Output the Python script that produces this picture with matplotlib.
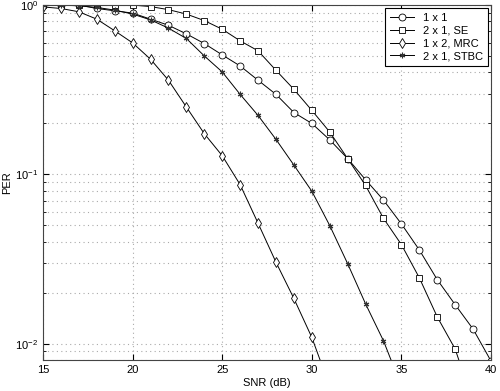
import matplotlib
matplotlib.use("Agg")
import matplotlib.pyplot as plt

plt.rcParams['font.family'] = ['Liberation Sans', 'DejaVu Sans']

# SNR points (dB)
snr = list(range(15, 41))

# PER curves
per_1x1 = [1.0, 1.0, 1.0, 0.955, 0.925, 0.897, 0.826, 0.76, 0.676, 0.593, 0.508,
           0.437, 0.36, 0.297, 0.232, 0.2, 0.16, 0.124, 0.093, 0.0705, 0.051,
           0.0358, 0.0239, 0.017, 0.0122, 0.0079]
per_2x1_se = [1.0, 1.0, 1.0, 1.0, 1.0, 1.0, 0.98, 0.94, 0.885, 0.81, 0.72,
              0.615, 0.537, 0.412, 0.318, 0.239, 0.178, 0.124, 0.086, 0.055,
              0.0385, 0.0245, 0.0144, 0.0093, 0.0045]
per_1x2_mrc = [0.975, 0.955, 0.913, 0.826, 0.705, 0.598, 0.479, 0.36, 0.25,
               0.174, 0.129, 0.087, 0.0515, 0.0303, 0.0185, 0.0109, 0.0056]
per_2x1_stbc = [1.0, 1.0, 0.99, 0.969, 0.934, 0.885, 0.818, 0.731, 0.635, 0.501,
                0.403, 0.297, 0.223, 0.161, 0.1135, 0.0796, 0.0499, 0.0297,
                0.0172, 0.0104, 0.0056]

labels = ['1 x 1', '2 x 1, SE', '1 x 2, MRC', '2 x 1, STBC']

fig = plt.figure(figsize=(5, 3.91), dpi=100)
ax = fig.add_axes([0.086, 0.079, 0.896, 0.908])

style = dict(color='black', lw=0.7, mfc='white', mec='black', mew=0.6)
ax.semilogy(snr[:len(per_1x1)], per_1x1, marker='o', ms=5, label=labels[0], **style)
ax.semilogy(snr[:len(per_2x1_se)], per_2x1_se, marker='s', ms=4, label=labels[1], **style)
ax.semilogy(snr[:len(per_1x2_mrc)], per_1x2_mrc, marker='d', ms=5, label=labels[2], **style)
ax.semilogy(snr[:len(per_2x1_stbc)], per_2x1_stbc, marker=(6, 2, 0), ms=4,
            label=labels[3], color='black', lw=0.7, mec='#333333', mew=0.8)

ax.set_xlim(15, 40)
ax.set_ylim(0.008, 1.0)
ax.set_xticks([15, 20, 25, 30, 35, 40])
ax.set_xlabel('SNR (dB)', fontsize=8, labelpad=2)
ax.set_ylabel('PER', fontsize=8, labelpad=2)

# light, sparse dotted grid (major on both axes, minor on the log axis)
ax.grid(True, which='major', axis='both', ls=(0, (1, 3)), color='#aaaaaa', lw=0.8)
ax.grid(True, which='minor', axis='y', ls=(0, (1, 3)), color='#aaaaaa', lw=0.8)
ax.tick_params(which='both', direction='in', labelsize=8, top=True, right=True)
ax.tick_params(which='major', length=4)
ax.tick_params(which='minor', length=2)
for s in ax.spines.values():
    s.set_color('#444444')
    s.set_linewidth(0.8)

leg = ax.legend(loc='upper right', fontsize=8, frameon=True, fancybox=False,
                edgecolor='black', handlelength=2.2, borderaxespad=0.3,
                labelspacing=0.25, borderpad=0.4, framealpha=1)
leg.get_frame().set_linewidth(0.8)

fig.savefig('out.png', dpi=100)
